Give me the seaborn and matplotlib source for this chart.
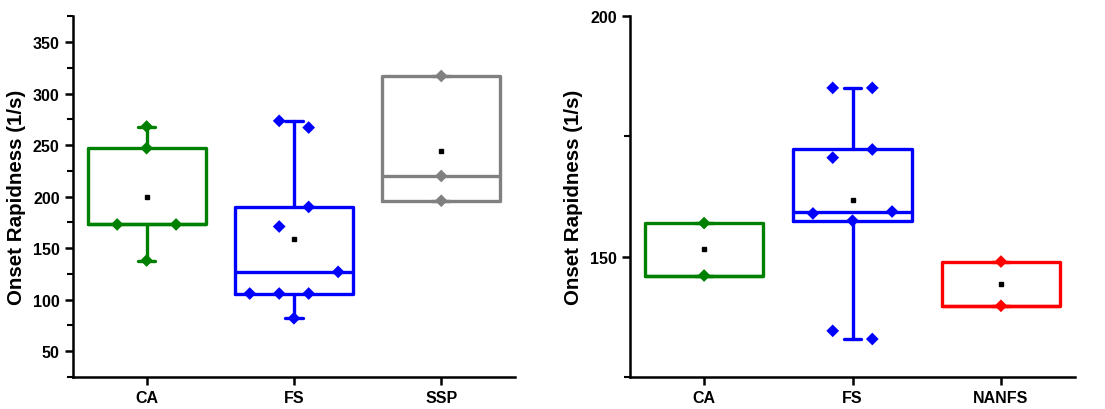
import numpy as np
import pandas as pd
import matplotlib
matplotlib.use("Agg")
import matplotlib.pyplot as plt
import seaborn as sns
from matplotlib import cbook
from matplotlib.ticker import MultipleLocator

# Data (order within a group sets the side-by-side layout)
left_groups = ["CA", "FS", "SSP"]
left_ca = [138, 173, 173, 247, 268]
left_fs = [82, 106, 106, 106, 127, 171, 190, 273.5, 267]
left_ssp = [196, 220, 317]

right_groups = ["CA", "FS", "NANFS"]
right_ca = [157, 146.1]
right_fs = [134.6, 132.9, 159.0, 157.5, 159.4, 170.6, 172.3, 185.1, 185.1]
right_nanfs = [149, 139.8]

colors = {"CA": "#008000", "FS": "#0000ff", "SSP": "#808080", "NANFS": "#ff0000"}

sns.set_style("ticks")
plt.rcParams["font.family"] = ["Liberation Sans", "DejaVu Sans"]
plt.rcParams["font.weight"] = "bold"
plt.rcParams["text.color"] = "black"
plt.rcParams["axes.labelcolor"] = "black"


def spread(vals, bin_w, width=0.8):
    # Origin-like offsets: values in the same bin sit side by side
    vals = np.asarray(vals, float)
    bins = np.floor(vals / bin_w)
    uniq, counts = np.unique(bins, return_counts=True)
    step = width / counts.max()
    off = np.zeros(len(vals))
    for b, n in zip(uniq, counts):
        idx = np.where(bins == b)[0]
        off[idx] = (np.arange(n) - (n - 1) / 2) * step
    return off


def box_stats(vals):
    st = cbook.boxplot_stats(vals, whis=(0, 100))[0]
    st["q1"] = np.percentile(vals, 25, method="lower")
    st["q3"] = np.percentile(vals, 75, method="higher")
    st["med"] = np.percentile(vals, 50, method="lower")
    return st


def draw_panel(ax, groups, data, bin_w, ylim, major):
    rows = []
    for i, (g, vals) in enumerate(zip(groups, data)):
        c = colors[g]
        line = dict(color=c, linewidth=2.4)
        ax.bxp([box_stats(vals)], positions=[i], widths=0.8, capwidths=0.12,
               showfliers=False, showmeans=True, manage_ticks=False,
               boxprops=line, whiskerprops=line, capprops=line, medianprops=line,
               meanprops=dict(marker="s", markerfacecolor="black",
                              markeredgecolor="black", markersize=2.2))
        for v, o in zip(vals, spread(vals, bin_w)):
            rows.append({"group": g, "x": i + o, "value": v})
    df = pd.DataFrame(rows)
    sns.scatterplot(data=df, x="x", y="value", hue="group", palette=colors,
                    marker="D", s=42, linewidth=0, legend=False, ax=ax, zorder=3)

    ax.set_xlim(-0.5, 2.5)
    ax.set_ylim(*ylim)
    ax.set_xticks(range(len(groups)))
    ax.set_xticklabels(groups, fontsize=11.5, fontweight="bold")
    ax.yaxis.set_major_locator(MultipleLocator(major))
    ax.yaxis.set_minor_locator(MultipleLocator(major / 2))
    for lab in ax.get_yticklabels():
        lab.set_fontsize(11.5)
        lab.set_fontweight("bold")
    ax.set_xlabel("")
    ax.set_ylabel("Onset Rapidness (1/s)", fontsize=14.8, fontweight="bold",
                  labelpad=5, color="black")
    sns.despine(ax=ax)
    for s in ["left", "bottom"]:
        ax.spines[s].set_linewidth(1.8)
        ax.spines[s].set_color("black")
    ax.tick_params(which="major", direction="out", length=6, width=1.8, colors="black")
    ax.tick_params(which="minor", direction="out", length=4, width=1.5, colors="black")
    ax.tick_params(axis="x", which="minor", length=0)


fig = plt.figure(figsize=(11.05, 4.1), dpi=100)
ax1 = fig.add_axes([0.066, 0.078, 0.400, 0.880])
ax2 = fig.add_axes([0.570, 0.078, 0.403, 0.880])

draw_panel(ax1, left_groups, [left_ca, left_fs, left_ssp], 50, (25, 375), 50)
draw_panel(ax2, right_groups, [right_ca, right_fs, right_nanfs], 5, (125, 200), 50)

fig.savefig("out.png", dpi=100)
plt.close()
